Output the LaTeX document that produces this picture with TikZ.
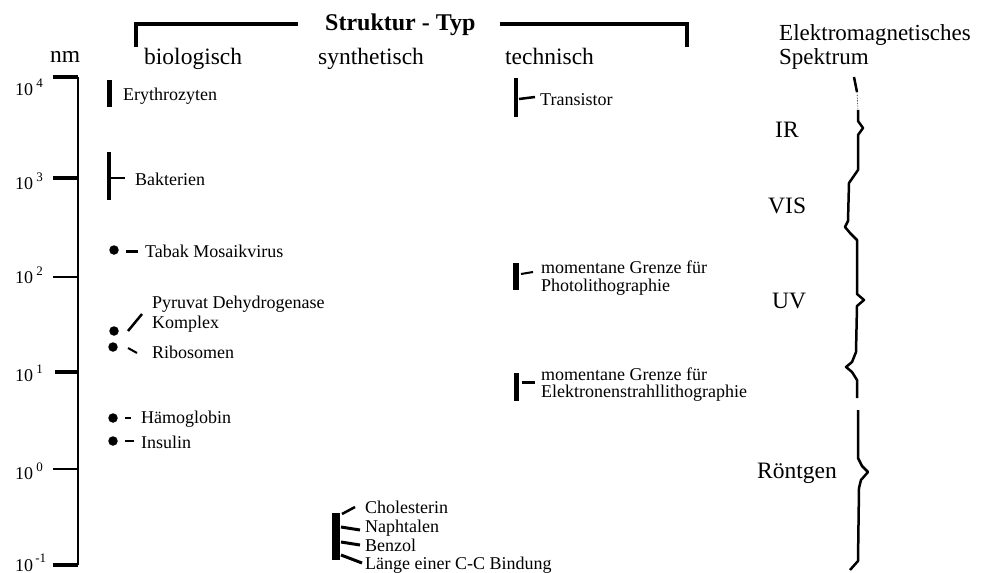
\documentclass[tikz,border=0pt]{standalone}
\usepackage{fontspec}
\setmainfont{Liberation Serif}
\begin{document}
\begin{tikzpicture}[x=1pt,y=-1pt,
  lab/.style={font=\fontsize{18}{18}\selectfont, anchor=base west, inner sep=0pt},
  head/.style={font=\fontsize{23.5}{23.5}\selectfont, anchor=base west, inner sep=0pt},
  axl/.style={font=\fontsize{18}{18}\selectfont, anchor=base west, inner sep=0pt},
  bracket/.style={line width=4.5pt},
  axisline/.style={line width=2.5pt},
  bar/.style={line width=5pt},
  leader/.style={line width=2pt},
  dot/.style={circle, fill=black, inner sep=0pt, minimum size=9.5pt},
  spec/.style={line width=2.5pt, line join=round}]
\useasboundingbox (0,0) rectangle (983,573);

% title and top bracket
\node[font=\fontsize{24}{24}\selectfont\bfseries, anchor=base west, inner sep=0pt] (ttl) at (325,30) {Struktur - Typ};
\coordinate (bl1) at (136,47); \coordinate (bl2) at (298,24);
\coordinate (br1) at (500,24); \coordinate (br2) at (687,47);
\draw[bracket] (bl1) |- (bl2);
\draw[bracket] (br1) -| (br2);

% headers
\node[head] (nm) at (50,62) {nm};
\node[head] (bio) at (144,64) {biologisch};
\node[head] (syn) at (318,64) {synthetisch};
\node[head] (tec) at (505,64) {technisch};
\node[head, font=\fontsize{23}{23}\selectfont] (em1) at (779,40) {Elektromagnetisches};
\node[head, font=\fontsize{23}{23}\selectfont] (em2) at (779,64) {Spektrum};

% axis
\coordinate (atop) at (78,77); \coordinate (abot) at (78,565);
\draw[axisline] (atop) -- (abot);
\coordinate (t4) at (53,77);  \draw[line width=4pt] (t4) -- (atop);
\coordinate (t3) at (53,178); \coordinate (a3) at (78,178); \draw[line width=3.5pt] (t3) -- (a3);
\coordinate (t2) at (53,277); \coordinate (a2) at (78,277); \draw[line width=2pt] (t2) -- (a2);
\coordinate (t1) at (55,372); \coordinate (a1) at (78,372); \draw[line width=4pt] (t1) -- (a1);
\coordinate (t0) at (53,469); \coordinate (a0) at (78,469); \draw[line width=1.5pt] (t0) -- (a0);
\coordinate (tm1) at (53,565); \draw[line width=4pt] (tm1) -- (abot);

\node[axl] (l4) at (15,95) {10\raisebox{8pt}{\fontsize{13}{13}\selectfont\ 4}};
\node[axl] (l3) at (15,189) {10\raisebox{8pt}{\fontsize{13}{13}\selectfont\ 3}};
\node[axl] (l2) at (15,283) {10\raisebox{8pt}{\fontsize{13}{13}\selectfont\ 2}};
\node[axl] (l1) at (15,381) {10\raisebox{8pt}{\fontsize{13}{13}\selectfont\ 1}};
\node[axl] (l0) at (15,479) {10\raisebox{8pt}{\fontsize{13}{13}\selectfont\ 0}};
\node[axl] (lm1) at (15,571) {10\raisebox{9pt}{\fontsize{13}{13}\selectfont\,-1}};

% biological
\coordinate (ery1) at (109,80); \coordinate (ery2) at (109,107);
\draw[bar] (ery1) -- (ery2);
\node[lab] (ery) at (123,100) {Erythrozyten};

\coordinate (bak1) at (109,152); \coordinate (bak2) at (109,200);
\draw[line width=4pt] (bak1) -- (bak2);
\node[lab] (bak) at (135,185) {Bakterien};
\coordinate (bakt) at (110,178); \coordinate (bake) at (125,178);
\draw[leader] (bakt) -- (bake);

\node[dot] (d1) at (114,250) {};
\node[lab] (tmv) at (145,257) {Tabak Mosaikvirus};
\coordinate (tmvs) at (126,251); \coordinate (tmve) at (138,251);
\draw[line width=3pt] (tmvs) -- (tmve);

\node[dot] (d2) at (114,331) {};
\node[lab] (pyr1) at (152,308) {Pyruvat Dehydrogenase};
\node[lab] (pyr2) at (152,328) {Komplex};
\coordinate (pyrs) at (128,331); \coordinate (pyre) at (142,314);
\draw[line width=2.5pt] (pyrs) -- (pyre);

\node[dot] (d3) at (113,347) {};
\node[lab] (rib) at (152,358) {Ribosomen};
\coordinate (ribs) at (128,348); \coordinate (ribe) at (137,353);
\draw[leader] (ribs) -- (ribe);

\node[dot] (d4) at (113,418) {};
\node[lab] (hae) at (141,423) {Hämoglobin};
\coordinate (haes) at (125,418); \coordinate (haee) at (131,418);
\draw[leader] (haes) -- (haee);

\node[dot] (d5) at (113,441) {};
\node[lab] (ins) at (141,448) {Insulin};
\coordinate (inss) at (125,441); \coordinate (inse) at (134,441);
\draw[leader] (inss) -- (inse);

% synthetic
\coordinate (sy1) at (336,513); \coordinate (sy2) at (336,560);
\draw[line width=8pt] (sy1) -- (sy2);
\node[lab] (cho) at (365,513) {Cholesterin};
\node[lab] (nap) at (365,532) {Naphtalen};
\node[lab] (ben) at (365,551) {Benzol};
\node[lab] (cc) at (365,569) {Länge einer C-C Bindung};
\coordinate (s1) at (342,514); \coordinate (s1e) at (355,507);
\coordinate (s2) at (341,527); \coordinate (s2e) at (360,530);
\coordinate (s3) at (341,542); \coordinate (s3e) at (360,545);
\coordinate (s4) at (341,555); \coordinate (s4e) at (362,563);
\draw[line width=2.5pt] (s1) -- (s1e);
\draw[line width=3pt] (s2) -- (s2e);
\draw[line width=3pt] (s3) -- (s3e);
\draw[line width=3pt] (s4) -- (s4e);

% technical
\coordinate (tr1) at (516,78); \coordinate (tr2) at (516,117);
\draw[line width=4.5pt] (tr1) -- (tr2);
\node[lab] (tra) at (540,105) {Transistor};
\coordinate (trt) at (519,99); \coordinate (trte) at (535,97);
\draw[line width=2.5pt] (trt) -- (trte);

\coordinate (ph1) at (516,263); \coordinate (ph2) at (516,290);
\draw[line width=6pt] (ph1) -- (ph2);
\node[lab] (pho1) at (541,273) {momentane Grenze für};
\node[lab] (pho2) at (541,291) {Photolithographie};
\coordinate (pht) at (521,274); \coordinate (phte) at (533,272);
\draw[line width=2pt] (pht) -- (phte);

\coordinate (el1) at (516,373); \coordinate (el2) at (516,401);
\draw[line width=5pt] (el1) -- (el2);
\node[lab] (ele1) at (541,380) {momentane Grenze für};
\node[lab] (ele2) at (541,397) {Elektronenstrahllithographie};
\coordinate (elt) at (522,382); \coordinate (elte) at (535,382);
\draw[line width=3pt] (elt) -- (elte);

% spectrum
\node[head] (ir) at (775,137) {IR};
\node[head] (vis) at (768,213) {VIS};
\node[head] (uv) at (772,308) {UV};
\node[head] (ro) at (757,478) {Röntgen};

\coordinate (sp0) at (854,77);
\draw[spec] (sp0) -- (857,92);
\draw[line width=0.6pt, densely dotted] (857,92) -- (858,110);
\draw[spec] (858,110) -- (858,121) -- (863,128) -- (858,135) -- (858,170) -- (849,183) -- (848,221) -- (845,227) -- (850,233) -- (857,240) -- (857,294) -- (864,300) -- (857,306) -- (856,352) -- (852,362) -- (846,367) -- (852,372) -- (857,380) -- (857,398);
\draw[spec] (858,410) -- (858,458) -- (862,466) -- (868,472) -- (861,480) -- (859,488) -- (858,561) -- (850,570);
\end{tikzpicture}
\end{document}
